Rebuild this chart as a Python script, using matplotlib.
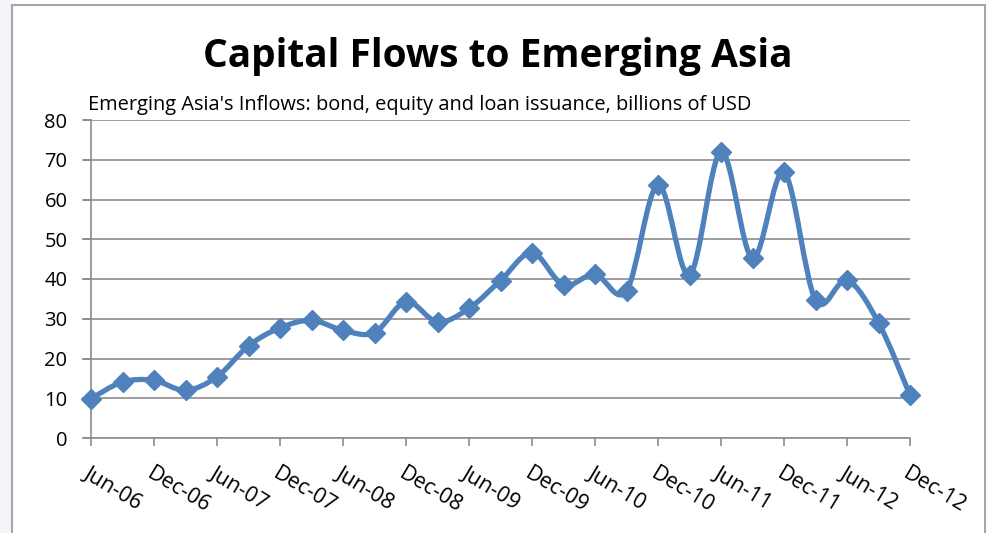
import matplotlib
matplotlib.use("Agg")
import matplotlib.pyplot as plt
from matplotlib.path import Path
from matplotlib.patches import PathPatch, Rectangle
import numpy as np

quarters = ["Jun-06", "Sep-06", "Dec-06", "Mar-07", "Jun-07", "Sep-07", "Dec-07",
            "Mar-08", "Jun-08", "Sep-08", "Dec-08", "Mar-09", "Jun-09", "Sep-09",
            "Dec-09", "Mar-10", "Jun-10", "Sep-10", "Dec-10", "Mar-11", "Jun-11",
            "Sep-11", "Dec-11", "Mar-12", "Jun-12", "Sep-12", "Dec-12"]
inflows = [9.9, 14.1, 14.5, 12.0, 15.4, 23.2, 27.7,
           29.6, 27.1, 26.5, 34.3, 29.2, 32.6, 39.6,
           46.6, 38.5, 41.2, 37.0, 63.7, 41.0, 72.0,
           45.2, 66.8, 34.7, 39.7, 29.0, 10.8]
tick_labels = quarters[::2]
y_ticks = [0, 10, 20, 30, 40, 50, 60, 70, 80]

title = "Capital Flows to Emerging Asia"
subtitle = "Emerging Asia's Inflows: bond, equity and loan issuance, billions of USD"

FONT = ["Open Sans", "DejaVu Sans"]
LINE = "#4F81BD"
GRID = "#8c8c8c"

fig = plt.figure(figsize=(9.88, 5.33), dpi=100)
fig.patch.set_facecolor("white")

# left strip and chart border
fig.patches.append(Rectangle((0, 0), 12 / 988, 1, transform=fig.transFigure,
                             facecolor="#f4f5f8", edgecolor="none", zorder=0))
fig.patches.append(Rectangle((12 / 988, -0.05), (985 - 12) / 988, 1 - 5 / 533 + 0.05,
                             transform=fig.transFigure, facecolor="none",
                             edgecolor="#a6a6a6", linewidth=1.5, zorder=1))

ax = fig.add_axes([91 / 988, 1 - 438 / 533, (910 - 91) / 988, (438 - 120) / 533])
x = np.arange(len(inflows))
y = np.array(inflows, dtype=float)

# smoothed line (Catmull-Rom style Bezier through data points)
verts = [(x[0], y[0])]
codes = [Path.MOVETO]
n = len(x)
for i in range(n - 1):
    p0 = np.array([x[max(i - 1, 0)], y[max(i - 1, 0)]])
    p1 = np.array([x[i], y[i]])
    p2 = np.array([x[i + 1], y[i + 1]])
    p3 = np.array([x[min(i + 2, n - 1)], y[min(i + 2, n - 1)]])
    c1 = p1 + (p2 - p0) / 6.0
    c2 = p2 - (p3 - p1) / 6.0
    verts += [tuple(c1), tuple(c2), tuple(p2)]
    codes += [Path.CURVE4] * 3
path = Path(verts, codes)
ax.add_patch(PathPatch(path, facecolor="none", edgecolor=LINE, linewidth=3.8,
                       capstyle="round", joinstyle="round", zorder=3, clip_on=False))
ax.plot(x, y, linestyle="none", marker="D", markersize=10.5, color=LINE,
        zorder=4, clip_on=False)

ax.set_xlim(0, n - 1)
ax.set_ylim(0, 80)
ax.set_yticks(y_ticks)
ax.set_yticklabels([str(v) for v in y_ticks], fontfamily=FONT, fontsize=14.5)
ax.set_xticks(x[::2])
ax.set_xticklabels(tick_labels, fontfamily=FONT, fontsize=15.5, rotation=-31,
                   ha="left", va="top", rotation_mode="anchor")
ax.grid(axis="y", color=GRID, linewidth=1.2)
ax.set_axisbelow(True)
for s in ["top", "right"]:
    ax.spines[s].set_visible(False)
for s in ["left", "bottom"]:
    ax.spines[s].set_color(GRID)
    ax.spines[s].set_linewidth(1.2)
ax.tick_params(axis="y", length=6, width=1.2, color=GRID, pad=11, labelcolor="black")
ax.tick_params(axis="x", length=6, width=1.2, color=GRID, pad=12, labelcolor="black")
# extend gridlines leftwards like Excel
for v in y_ticks:
    ax.plot([-8 / ((910 - 91) / (n - 1)), 0], [v, v], color=GRID, lw=1.2,
            clip_on=False, zorder=1)

fig.text(498 / 988, 1 - 57 / 533, title, ha="center", va="center",
         fontfamily=FONT, fontweight="bold", fontsize=28)
fig.text(88 / 988, 1 - 110 / 533, subtitle, ha="left", va="baseline",
         fontfamily=FONT, fontsize=14.4)

fig.savefig("out.png", dpi=100, facecolor=fig.get_facecolor())
